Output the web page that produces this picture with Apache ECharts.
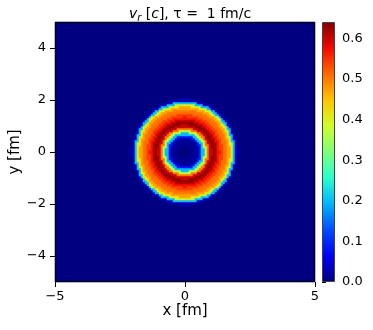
<!DOCTYPE html>
<html>
<head>
<meta charset="utf-8">
<script src="https://cdn.jsdelivr.net/npm/echarts@6/dist/echarts.min.js"></script>
<style>
  html, body { margin: 0; padding: 0; background: #fff; }
  #chart { width: 373px; height: 330px; }
</style>
</head>
<body>
<div id="chart"></div>
<script>
// radial profile of v_r, one value per 0.1 fm of radius
const radiusStep = 0.1;
const vrProfile = [0.0, 0.0, 0.0, 0.01, 0.01, 0.02, 0.08, 0.2, 0.37, 0.5,
  0.6, 0.63, 0.61, 0.57, 0.54, 0.51, 0.5, 0.47, 0.4, 0.2, 0.03];
const xTicks = [-5, 0, 5];
const yTicks = [-4, -2, 0, 2, 4];
const cbarTicks = [0, 0.1, 0.2, 0.3, 0.4, 0.5, 0.6];
const vMax = 0.64;
// jet colormap
const jet = ["#000080", "#0000f4", "#004cff", "#00b3ff", "#29ffce", "#7dff7a",
  "#ceff29", "#ffc400", "#ff6800", "#f40900", "#800000"];

// cell centres of the 130x130 grid spanning -5 .. 5 fm
const nCells = 130;
const cells = [];
for (let i = 0; i < nCells; i++) cells.push((-5 + (i + 0.5) * 10 / nCells).toFixed(3));

const heat = [];
for (let i = 0; i < cells.length; i++) {
  for (let j = 0; j < cells.length; j++) {
    const r = Math.hypot(+cells[i], +cells[j]);
    const k = Math.round(r / radiusStep);
    heat.push([i, j, k < vrProfile.length ? vrProfile[k] : 0]);
  }
}

const minus = (v) => String(v).replace("-", "\u2212");
const font = "DejaVu Sans";
const G = { left: 55, top: 22, width: 260, height: 260 };
const CB = { left: 322, top: 22, width: 13, height: 260 };

const myChart = echarts.init(document.getElementById("chart"));
const option = {
  animation: false,
  textStyle: { fontFamily: font },
  title: {
    text: "{i|v}{s|r}{n| [}{i|c}{n|], τ =  1 fm/c}",
    left: 185, top: 1, textAlign: "center",
    textStyle: {
      fontWeight: "normal",
      rich: {
        i: { fontFamily: font, fontStyle: "italic", fontWeight: "normal", fontSize: 14, color: "#000" },
        s: { fontFamily: font, fontStyle: "italic", fontWeight: "normal", fontSize: 10, color: "#000", verticalAlign: "bottom", padding: [7, 0, 0, 0] },
        n: { fontFamily: font, fontWeight: "normal", fontSize: 14, color: "#000" },
      },
    },
  },
  grid: [
    Object.assign({ containLabel: false, outerBoundsMode: "none", show: true, backgroundColor: "#000080", borderWidth: 0 }, G),
    Object.assign({ containLabel: false, outerBoundsMode: "none" }, CB),
  ],
  xAxis: [
    { type: "category", data: cells, gridIndex: 0, show: false },
    {
      type: "value", gridIndex: 0, min: -5, max: 5, interval: 5, position: "bottom",
      name: "x [fm]", nameLocation: "middle", nameGap: 22, nameMoveOverlap: false,
      nameTextStyle: { fontFamily: font, fontSize: 15, color: "#000" },
      axisLine: { show: false },
      axisTick: { show: true, length: 5, lineStyle: { color: "#000" }, customValues: xTicks },
      axisLabel: { fontFamily: font, fontSize: 13, color: "#000", margin: 8, formatter: minus, customValues: xTicks },
      splitLine: { show: false },
    },
    { type: "value", gridIndex: 1, show: false, min: 0, max: 1 },
  ],
  yAxis: [
    { type: "category", data: cells, gridIndex: 0, show: false },
    {
      type: "value", gridIndex: 0, min: -5, max: 5, position: "left",
      name: "y [fm]", nameLocation: "middle", nameGap: 32, nameRotate: 90, nameMoveOverlap: false,
      nameTextStyle: { fontFamily: font, fontSize: 15, color: "#000" },
      axisLine: { show: false },
      axisTick: { show: true, length: 5, lineStyle: { color: "#000" }, customValues: yTicks },
      axisLabel: { fontFamily: font, fontSize: 13, color: "#000", margin: 9, formatter: minus, customValues: yTicks },
      splitLine: { show: false },
    },
    {
      type: "value", gridIndex: 1, min: 0, max: vMax, position: "right",
      axisLine: { show: false },
      axisTick: { show: true, length: 4, lineStyle: { color: "#000" }, customValues: cbarTicks },
      axisLabel: { fontFamily: font, fontSize: 13, color: "#000", margin: 7, formatter: (v) => v.toFixed(1), customValues: cbarTicks },
      splitLine: { show: false },
    },
  ],
  visualMap: {
    type: "continuous", min: 0, max: vMax, seriesIndex: 0,
    left: CB.left, top: CB.top, itemWidth: CB.width, itemHeight: CB.height,
    padding: 0, calculable: false, text: null, showLabel: false, hoverLink: false,
    inRange: { color: jet },
  },
  series: [
    {
      type: "heatmap", xAxisIndex: 0, yAxisIndex: 0, data: heat,
      progressive: 0, emphasis: { disabled: true },
    },
  ],
  graphic: [
    { type: "rect", z: 100, silent: true, shape: { x: G.left + 0.5, y: G.top + 0.5, width: G.width - 1, height: G.height - 1 },
      style: { fill: "none", stroke: "#000", lineWidth: 1 } },
    { type: "rect", z: 100, silent: true, shape: { x: CB.left + 0.5, y: CB.top + 0.5, width: CB.width - 1, height: CB.height - 1 },
      style: { fill: "none", stroke: "#444", lineWidth: 1 } },
  ],
};
myChart.setOption(option);
</script>
</body>
</html>
